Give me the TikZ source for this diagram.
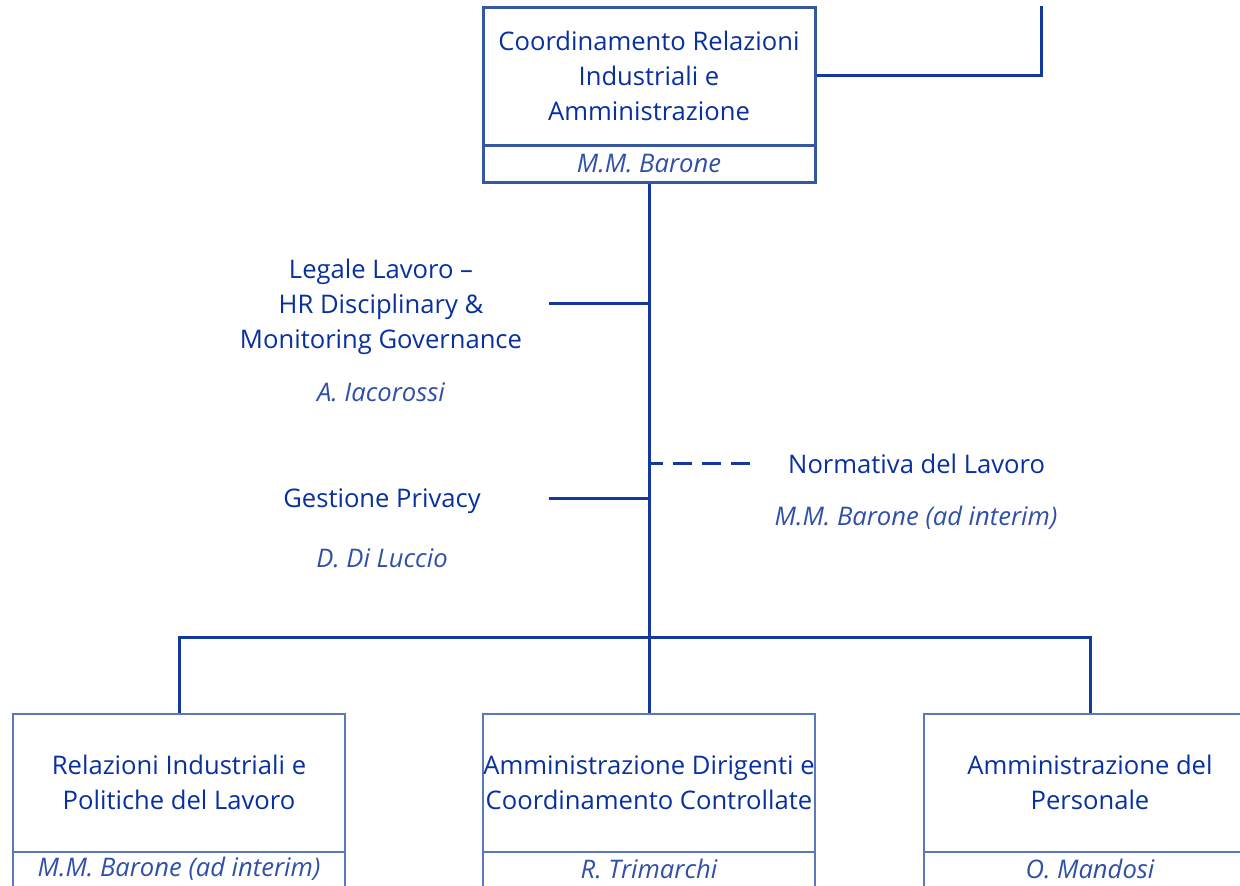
\documentclass[tikz,border=0pt]{standalone}
\usepackage{fontspec}
\setmainfont{Open Sans}
\definecolor{txt}{RGB}{8,48,158}
\definecolor{nm}{RGB}{48,80,168}
\definecolor{ln}{RGB}{20,56,158}
\definecolor{bx}{RGB}{90,120,186}
\definecolor{bxt}{RGB}{55,88,160}
\begin{document}
\begin{tikzpicture}[x=1pt,y=-1pt,
  title/.style={text=txt,font=\fontsize{25.6}{35}\selectfont,align=center,inner sep=0pt},
  who/.style={text=nm,font=\fontsize{25.6}{35}\selectfont\itshape,align=center,inner sep=0pt},
  topbox/.style={draw=bxt,line width=3pt,minimum width=332pt,inner sep=0pt},
  lowbox/.style={draw=bx,line width=1.5pt,minimum width=332pt,inner sep=0pt},
  conn/.style={draw=ln,line width=3pt},
  dconn/.style={draw=ln,line width=3pt,dash pattern=on 19pt off 10pt}]
\useasboundingbox (0,0) rectangle (1240,886);
\clip (0,0) rectangle (1240,886);
% top box
\node[topbox,minimum height=138pt] (top) at (649,76) {};
\node[topbox,minimum height=37pt] (topn) at (649,163.5) {};
\node[title] at (649,75.5) {Coordinamento Relazioni\\Industriali e\\Amministrazione};
\node[who] at (649,163.5) {M.M. Barone};
% line to upper right
\coordinate (ur) at (1041,6);
\draw[conn] (top.east |- 0,75) -| (ur);
% trunk
\coordinate (bar) at (649,637);
\coordinate (lg) at (649,303);
\coordinate (gp) at (649,498);
\coordinate (nw) at (649,463);
\draw[conn] (topn.south) -- (bar);
% staff
\node[title] (legale) at (381,307) {Legale Lavoro –\\HR Disciplinary \&\\Monitoring Governance};
\node[who] at (381,392) {A. Iacorossi};
\coordinate (lgE) at (549,303);
\draw[conn] (lgE) -- (lg);
\node[title] (priv) at (382,501) {Gestione Privacy};
\node[who] at (382,558) {D. Di Luccio};
\coordinate (gpE) at (549,498);
\draw[conn] (gpE) -- (gp);
\node[title,anchor=west] (norm) at (788,463.5) {Normativa del Lavoro};
\node[who] at (916,518) {M.M. Barone (ad interim)};
\coordinate (nwE) at (750,463);
\draw[dconn] (nwE) -- (nw);
% bottom boxes
\node[lowbox,minimum height=138pt] (b1) at (179,783) {};
\node[lowbox,minimum height=40pt] (b1n) at (179,872) {};
\node[title] at (179,782.5) {Relazioni Industriali e\\Politiche del Lavoro};
\node[who] at (179,869) {M.M. Barone (ad interim)};
\node[lowbox,minimum height=138pt] (b2) at (649,783) {};
\node[lowbox,minimum height=40pt] (b2n) at (649,872) {};
\node[title] at (649,782.5) {Amministrazione Dirigenti e\\Coordinamento Controllate};
\node[who] at (649,869) {R. Trimarchi};
\node[lowbox,minimum height=138pt] (b3) at (1090,783) {};
\node[lowbox,minimum height=40pt] (b3n) at (1090,872) {};
\node[title] at (1090,782.5) {Amministrazione del\\Personale};
\node[who] at (1090,869) {O. Mandosi};
% bus
\draw[conn] (b1.north) -- (b1.north |- bar) -- (b3.north |- bar) -- (b3.north);
\draw[conn] (bar) -- (b2.north);
\end{tikzpicture}
\end{document}
